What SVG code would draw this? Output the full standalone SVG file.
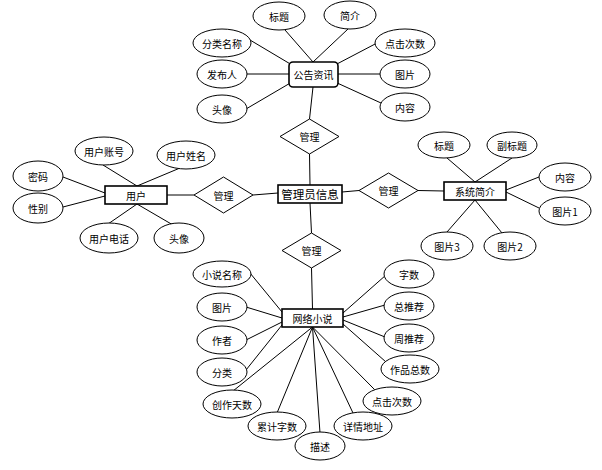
<svg xmlns="http://www.w3.org/2000/svg" width="602" height="470" viewBox="0 0 602 470">
<style>
text{font-family:"Noto Sans CJK SC","Microsoft YaHei",sans-serif;font-size:10px;fill:#000;text-anchor:middle;dominant-baseline:central}
.big{font-size:11.5px}
ellipse{fill:#fff;stroke:#000;stroke-width:1}
.ent{fill:#fff;stroke:#000;stroke-width:1.6}
.rel{fill:#fff;stroke:#000;stroke-width:1}
#connectors line{stroke:#000;stroke-width:1}
</style>
<rect width="602" height="470" fill="#fff"/>
<g id="connectors">
<line x1="313" y1="62" x2="285" y2="30"/>
<line x1="313" y1="62" x2="348" y2="29"/>
<line x1="292" y1="65" x2="250" y2="40"/>
<line x1="289" y1="74" x2="247" y2="74"/>
<line x1="292" y1="82" x2="246" y2="109"/>
<line x1="335" y1="65" x2="377" y2="43"/>
<line x1="338" y1="74" x2="380" y2="74"/>
<line x1="335" y1="82" x2="381" y2="103"/>
<line x1="313" y1="87" x2="309.5" y2="119"/>
<line x1="309.5" y1="154" x2="310" y2="185"/>
<line x1="310" y1="203" x2="311.5" y2="233"/>
<line x1="311.5" y1="268" x2="312.5" y2="309"/>
<line x1="167" y1="195" x2="194" y2="195"/>
<line x1="253" y1="195" x2="278" y2="193"/>
<line x1="342" y1="192" x2="359" y2="190.5"/>
<line x1="418" y1="190.5" x2="444" y2="191"/>
<line x1="137" y1="186" x2="103" y2="165"/>
<line x1="137" y1="186" x2="180" y2="168"/>
<line x1="105" y1="193" x2="63" y2="177"/>
<line x1="105" y1="196" x2="63" y2="207"/>
<line x1="137" y1="204" x2="108" y2="224"/>
<line x1="137" y1="204" x2="173" y2="225"/>
<line x1="475" y1="182" x2="447" y2="158"/>
<line x1="475" y1="182" x2="512" y2="158"/>
<line x1="506" y1="190" x2="539" y2="177"/>
<line x1="506" y1="192" x2="539" y2="208"/>
<line x1="475" y1="200" x2="447" y2="232"/>
<line x1="475" y1="200" x2="502" y2="233"/>
<line x1="282" y1="312" x2="250" y2="273"/>
<line x1="282" y1="318" x2="246" y2="307"/>
<line x1="282" y1="322" x2="246" y2="340"/>
<line x1="282" y1="325" x2="246" y2="370"/>
<line x1="312.5" y1="327" x2="233" y2="391"/>
<line x1="312.5" y1="327" x2="277" y2="413"/>
<line x1="312.5" y1="327" x2="320" y2="433"/>
<line x1="312.5" y1="327" x2="353" y2="413"/>
<line x1="312.5" y1="327" x2="375" y2="390"/>
<line x1="343" y1="324" x2="386" y2="362"/>
<line x1="343" y1="320" x2="385" y2="337"/>
<line x1="343" y1="317" x2="385" y2="305"/>
<line x1="343" y1="313" x2="386" y2="275"/>
</g>
<g id="gonggao"><rect class="ent" x="289" y="62" width="49" height="25" rx="4"/><text x="313.5" y="74.5">公告资讯</text></g>
<g id="g-biaoti"><ellipse cx="279" cy="16" rx="26" ry="14"/><text x="279" y="16">标题</text></g>
<g id="g-jianjie"><ellipse cx="350" cy="15" rx="26" ry="14"/><text x="350" y="15">简介</text></g>
<g id="g-fenlei"><ellipse cx="222" cy="43" rx="29" ry="14"/><text x="222" y="43">分类名称</text></g>
<g id="g-fabu"><ellipse cx="222" cy="74" rx="25" ry="14"/><text x="222" y="74">发布人</text></g>
<g id="g-touxiang"><ellipse cx="222" cy="109" rx="25" ry="14"/><text x="222" y="109">头像</text></g>
<g id="g-dianji"><ellipse cx="405" cy="43" rx="30" ry="14"/><text x="405" y="43">点击次数</text></g>
<g id="g-tupian"><ellipse cx="405" cy="74" rx="25" ry="14"/><text x="405" y="74">图片</text></g>
<g id="g-neirong"><ellipse cx="405" cy="107" rx="25" ry="14"/><text x="405" y="107">内容</text></g>
<g id="rel-top"><polygon class="rel" points="280,136.5 309.5,119 339,136.5 309.5,154"/><text x="309.5" y="136.5">管理</text></g>
<g id="admin"><rect class="ent" x="278" y="185" width="64" height="18"/><text class="big" x="310" y="194">管理员信息</text></g>
<g id="rel-left"><polygon class="rel" points="194,195 223.5,177 253,195 223.5,213"/><text x="223.5" y="195">管理</text></g>
<g id="rel-right"><polygon class="rel" points="359,190.5 388.5,173 418,190.5 388.5,208"/><text x="388.5" y="190.5">管理</text></g>
<g id="rel-bottom"><polygon class="rel" points="282,250.5 311.5,233 341,250.5 311.5,268"/><text x="311.5" y="250.5">管理</text></g>
<g id="user"><rect class="ent" x="105" y="186" width="62" height="18"/><text x="136" y="195">用户</text></g>
<g id="u-zhanghao"><ellipse cx="104" cy="151" rx="29" ry="14"/><text x="104" y="151">用户账号</text></g>
<g id="u-xingming"><ellipse cx="186" cy="155" rx="29" ry="14"/><text x="186" y="155">用户姓名</text></g>
<g id="u-mima"><ellipse cx="38" cy="176" rx="25" ry="15"/><text x="38" y="176">密码</text></g>
<g id="u-xingbie"><ellipse cx="38" cy="208" rx="25" ry="15"/><text x="38" y="208">性别</text></g>
<g id="u-dianhua"><ellipse cx="109" cy="238" rx="29" ry="15"/><text x="109" y="238">用户电话</text></g>
<g id="u-touxiang"><ellipse cx="179" cy="238" rx="25" ry="15"/><text x="179" y="238">头像</text></g>
<g id="sys"><rect class="ent" x="444" y="182" width="62" height="18"/><text x="475" y="191">系统简介</text></g>
<g id="s-biaoti"><ellipse cx="444" cy="145" rx="26" ry="13"/><text x="444" y="145">标题</text></g>
<g id="s-fubiaoti"><ellipse cx="512" cy="145" rx="25" ry="13"/><text x="512" y="145">副标题</text></g>
<g id="s-neirong"><ellipse cx="565" cy="177" rx="26" ry="14"/><text x="565" y="177">内容</text></g>
<g id="s-tupian1"><ellipse cx="565" cy="211" rx="26" ry="14"/><text x="565" y="211">图片1</text></g>
<g id="s-tupian3"><ellipse cx="447" cy="246" rx="26" ry="14"/><text x="447" y="246">图片3</text></g>
<g id="s-tupian2"><ellipse cx="510" cy="246" rx="26" ry="14"/><text x="510" y="246">图片2</text></g>
<g id="novel"><rect class="ent" x="282" y="309" width="61" height="18"/><text x="312.5" y="318">网络小说</text></g>
<g id="n-mingcheng"><ellipse cx="222" cy="274" rx="29" ry="13"/><text x="222" y="274">小说名称</text></g>
<g id="n-tupian"><ellipse cx="222" cy="307" rx="25" ry="14"/><text x="222" y="307">图片</text></g>
<g id="n-zuozhe"><ellipse cx="222" cy="340" rx="25" ry="14"/><text x="222" y="340">作者</text></g>
<g id="n-fenlei"><ellipse cx="222" cy="372" rx="25" ry="14"/><text x="222" y="372">分类</text></g>
<g id="n-tianshu"><ellipse cx="232" cy="404" rx="29" ry="14"/><text x="232" y="404">创作天数</text></g>
<g id="n-leiji"><ellipse cx="277" cy="426" rx="29" ry="14"/><text x="277" y="426">累计字数</text></g>
<g id="n-miaoshu"><ellipse cx="320" cy="446" rx="25" ry="14"/><text x="320" y="446">描述</text></g>
<g id="n-dizhi"><ellipse cx="363" cy="426" rx="29" ry="14"/><text x="363" y="426">详情地址</text></g>
<g id="n-dianji"><ellipse cx="392" cy="401" rx="29" ry="14"/><text x="392" y="401">点击次数</text></g>
<g id="n-zongshu"><ellipse cx="410" cy="369" rx="29" ry="14"/><text x="410" y="369">作品总数</text></g>
<g id="n-zhou"><ellipse cx="409" cy="338" rx="25" ry="14"/><text x="409" y="338">周推荐</text></g>
<g id="n-zong"><ellipse cx="409" cy="306" rx="25" ry="14"/><text x="409" y="306">总推荐</text></g>
<g id="n-zishu"><ellipse cx="409" cy="274" rx="25" ry="14"/><text x="409" y="274">字数</text></g>
</svg>
